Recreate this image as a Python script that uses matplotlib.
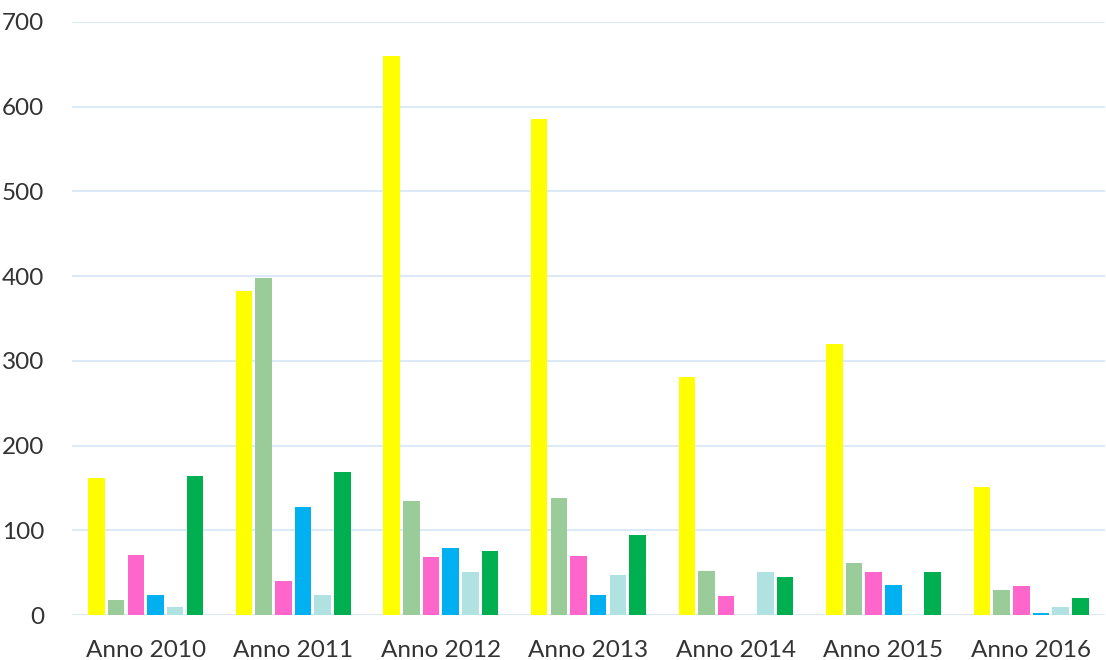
import matplotlib.pyplot as plt
import numpy as np

years = ["Anno 2010", "Anno 2011", "Anno 2012", "Anno 2013", "Anno 2014", "Anno 2015", "Anno 2016"]
s1 = [162, 382, 660, 585, 281, 320, 151]
s2 = [18, 398, 135, 138, 52, 62, 30]
s3 = [71, 40, 68, 70, 23, 51, 34]
s4 = [24, 127, 79, 24, 0, 35, 3]
s5 = [10, 24, 51, 47, 51, 0, 10]
s6 = [164, 169, 76, 95, 45, 51, 20]
series = [s1, s2, s3, s4, s5, s6]
colors = ["#FFFF00", "#99CC99", "#FF66CC", "#00B0F0", "#B0E2E2", "#00B050"]

plt.rcParams["font.family"] = ["Lato", "DejaVu Sans"]

fig = plt.figure(figsize=(11.06, 6.6), dpi=100)
ax = fig.add_axes([0.065, 0.068, 0.934, 0.899])

x = np.arange(len(years))
slot = 0.8 / len(series)
for i, (vals, c) in enumerate(zip(series, colors)):
    ax.bar(x - 0.4 + slot * (i + 0.5), vals, width=slot * 0.84, color=c,
           linewidth=0, zorder=3)

ax.set_xlim(-0.5, len(years) - 0.5)
ax.set_ylim(0, 700)
ax.set_yticks(range(0, 701, 100))
ax.set_xticks(x)
ax.set_xticklabels(years)
ax.grid(axis="y", color="#D6E6F7", linewidth=1.2, zorder=0)
for s in ax.spines.values():
    s.set_visible(False)
ax.tick_params(length=0, labelsize=17.5, labelcolor="#333333")
ax.tick_params(axis="y", pad=20)
ax.tick_params(axis="x", pad=18)

fig.savefig("out.png", dpi=100)
